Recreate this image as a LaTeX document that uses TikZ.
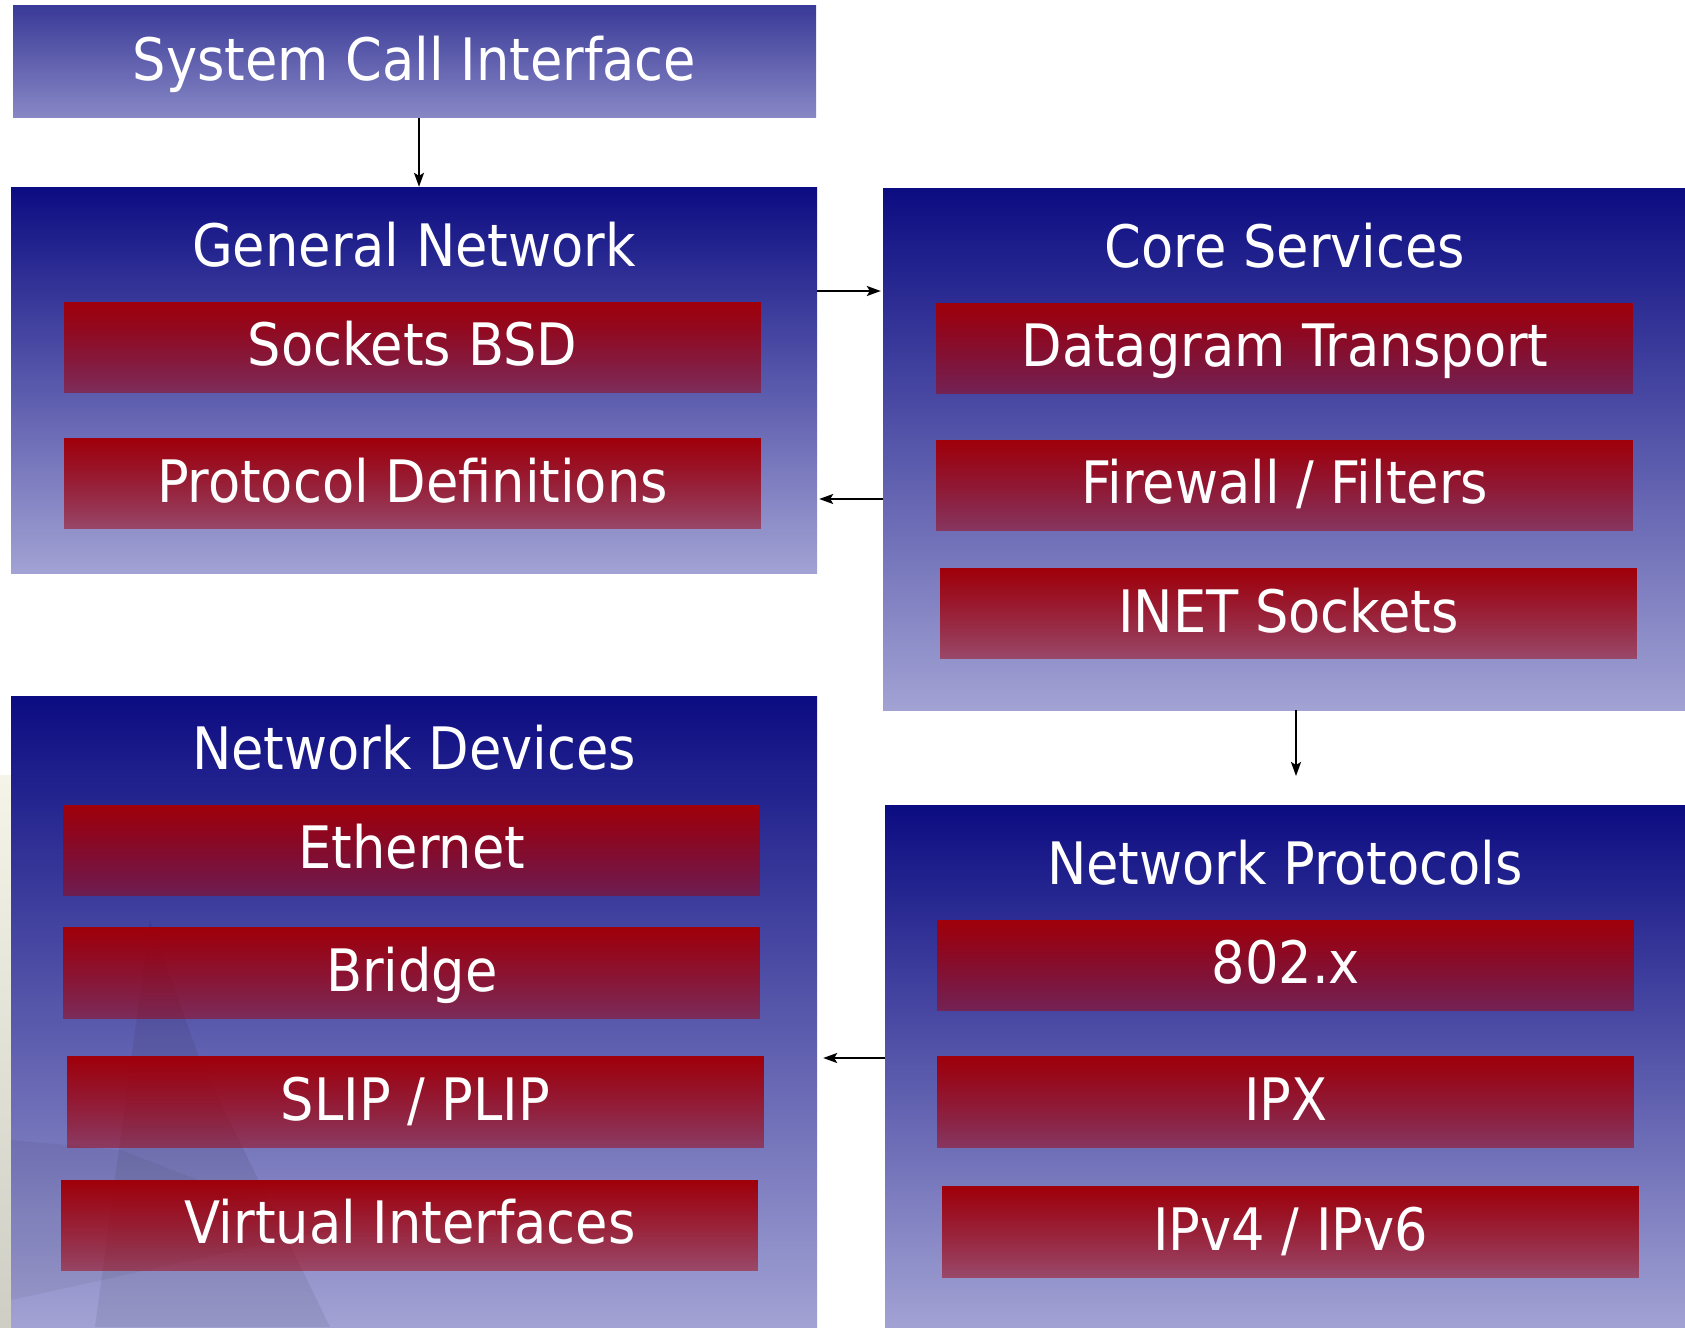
\documentclass[tikz,border=0pt]{standalone}
\usepackage{fontspec}
\setmainfont{DejaVu Sans Condensed}
\usetikzlibrary{arrows.meta,fadings}
\definecolor{navytop}{RGB}{12,12,130}
\definecolor{lavbot}{RGB}{162,162,212}
\definecolor{scitop}{RGB}{58,58,152}
\definecolor{scibot}{RGB}{136,136,198}
\definecolor{boxred}{RGB}{160,0,10}
\definecolor{wallA}{RGB}{244,244,232}
\definecolor{wallB}{RGB}{206,206,196}
\tikzfading[name=redfadedown, top color=transparent!0, bottom color=transparent!50]
\newcommand\bigfont{\fontsize{58.5}{70}\selectfont}
\begin{document}
\begin{tikzpicture}[x=1pt,y=-1pt,
  outerbox/.style={rectangle, inner sep=0pt, draw=none, top color=navytop, bottom color=lavbot},
  titletext/.style={inner sep=0pt, text=white, font=\bigfont, text height=42pt, text depth=0pt},
  inbox/.style={rectangle, inner sep=0pt, minimum width=697pt, minimum height=91pt,
     text=white, font=\bigfont, text height=42pt, text depth=6pt,
     preaction={fill=boxred, path fading=redfadedown}},
  arr/.style={line width=1.8pt, -{Stealth[length=14pt,width=10pt,inset=3pt]}}]
\useasboundingbox (0,0) rectangle (1685,1327);
\fill[white] (0,0) rectangle (1685,1327);
% desktop wallpaper strip on the left
\shade[top color=wallA, bottom color=wallB] (0,775) rectangle (11,1327);

% outer boxes
\node[rectangle, inner sep=0pt, top color=scitop, bottom color=scibot,
      minimum width=803pt, minimum height=112pt, text=white, font=\bigfont,
      text height=42pt, text depth=4pt] (sci) at (414.5,62) {System Call Interface};
\node[outerbox, minimum width=806pt, minimum height=386pt] (gn) at (414,380) {};
\node[outerbox, minimum width=802pt, minimum height=522pt] (cs) at (1284,449) {};
\node[outerbox, minimum width=806pt, minimum height=631pt] (nd) at (414,1011.5) {};
\node[outerbox, minimum width=800pt, minimum height=522pt] (np) at (1285,1066) {};

% faint wallpaper shapes seen through the window
\fill[black, opacity=0.07] (95,1327) -- (150,920) -- (200,1060) -- (330,1327) -- cycle;
\fill[black, opacity=0.05] (11,1140) -- (120,1150) -- (330,1230) -- (11,1300) -- cycle;

% titles
\node[titletext] (gnt) at (414,245) {General Network};
\node[titletext] (cst) at (1285,246.5) {Core Services};
\node[titletext] (ndt) at (414,748) {Network Devices};
\node[titletext] (npt) at (1285,863) {Network Protocols};

% inner boxes
\node[inbox] (sock) at (412.5,347.5) {Sockets BSD};
\node[inbox] (proto) at (412.5,484) {Protocol Definitions};
\node[inbox] (dgram) at (1285,348.5) {Datagram Transport};
\node[inbox] (fw) at (1285,485.5) {Firewall / Filters};
\node[inbox] (inet) at (1288.5,614) {INET Sockets};
\node[inbox] (eth) at (412,850.5) {Ethernet};
\node[inbox] (bridge) at (412,973) {Bridge};
\node[inbox] (slip) at (415.5,1102) {SLIP / PLIP};
\node[inbox] (virt) at (410,1225.5) {Virtual Interfaces};
\node[inbox] (p802) at (1286,965.5) {802.x};
\node[inbox] (ipx) at (1286,1102) {IPX};
\node[inbox] (ipv) at (1290.5,1232) {IPv4 / IPv6};

% connectors
\coordinate (npin) at (1296,776);
\draw[arr] (sci.south -| 419,0) -- (gn.north -| 419,0);
\draw[arr] (gn.east |- 0,291) -- ([xshift=-2pt]cs.west |- 0,291);
\draw[arr] (cs.west |- 0,499) -- ([xshift=2pt]gn.east |- 0,499);
\draw[arr] (cs.south -| 1296,0) -- (npin);
\draw[arr] (np.west |- 0,1058) -- ([xshift=6pt]nd.east |- 0,1058);
\end{tikzpicture}
\end{document}
